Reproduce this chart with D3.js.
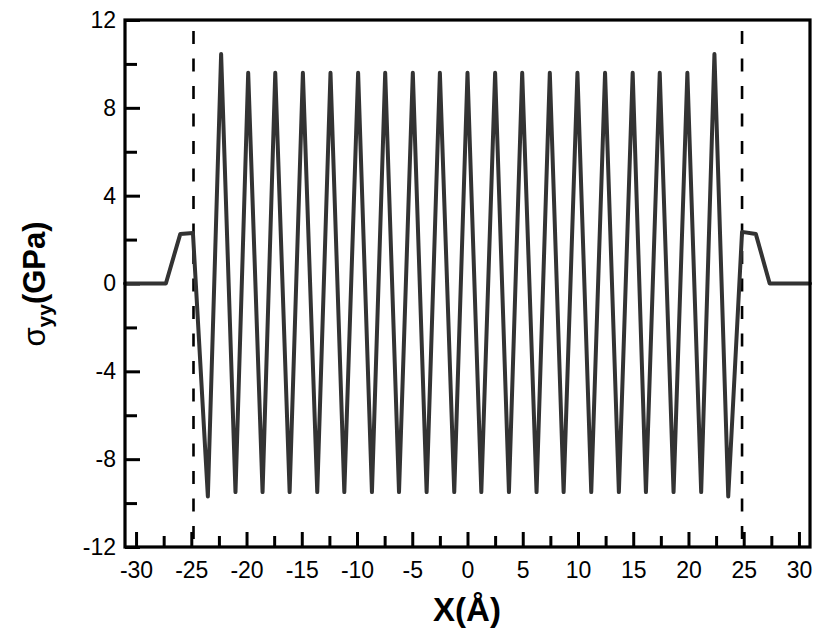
<!DOCTYPE html>
<html>
<head>
<meta charset="utf-8">
<script src="https://cdn.jsdelivr.net/npm/d3@7/dist/d3.min.js"></script>
<style>
  html, body { margin: 0; padding: 0; background: #fff; }
  svg { display: block; }
</style>
</head>
<body>
<svg id="chart" width="816" height="629"></svg>
<script>
// ---- data ----
const xValues = [-31, -27.3, -26.0, -24.85,
  -23.5, -22.3, -21.0, -19.85, -18.55, -17.4, -16.1, -14.9, -13.6, -12.4,
  -11.15, -9.9, -8.65, -7.45, -6.2, -4.95, -3.7, -2.5, -1.2, 0.0,
  1.25, 2.5, 3.75, 4.95, 6.25, 7.45, 8.7, 9.95, 11.2, 12.45,
  13.7, 14.95, 16.15, 17.4, 18.65, 19.9, 21.15, 22.35, 23.6,
  24.85, 26.1, 27.35, 31];
const yValues = [0, 0, 2.25, 2.3,
  -9.7, 10.45, -9.5, 9.6, -9.5, 9.6, -9.5, 9.6, -9.5, 9.6,
  -9.5, 9.6, -9.5, 9.6, -9.5, 9.6, -9.5, 9.6, -9.5, 9.6,
  -9.5, 9.6, -9.5, 9.6, -9.5, 9.6, -9.5, 9.6, -9.5, 9.6,
  -9.5, 9.6, -9.5, 9.6, -9.5, 9.6, -9.5, 10.45, -9.7,
  2.35, 2.25, 0, 0];
const dashedX = [-24.8, 24.85];
const xMajorTicks = [-30, -25, -20, -15, -10, -5, 0, 5, 10, 15, 20, 25, 30];
const xMinorTicks = [-27.5, -22.5, -17.5, -12.5, -7.5, -2.5, 2.5, 7.5, 12.5, 17.5, 22.5, 27.5];
const yMajorTicks = [-12, -8, -4, 0, 4, 8, 12];
const yMinorTicks = [-10, -6, -2, 2, 6, 10];

// ---- layout ----
const L = 125, R = 810, T = 20, B = 547;
const svg = d3.select("#chart");
const x = d3.scaleLinear().domain([-31, 31]).range([L, R]);
const y = d3.scaleLinear().domain([-12, 12]).range([B, T]);
const font = "Arial, 'Liberation Sans', Helvetica, sans-serif";

// minor ticks
svg.append("g").attr("transform", `translate(0,${B})`)
  .call(d3.axisBottom(x).tickValues(xMinorTicks).tickSize(-11).tickFormat(""))
  .call(g => g.select(".domain").remove())
  .call(g => g.selectAll("line").attr("stroke", "#000").attr("stroke-width", 3));
svg.append("g").attr("transform", `translate(${L},0)`)
  .call(d3.axisLeft(y).tickValues(yMinorTicks).tickSize(-12).tickFormat(""))
  .call(g => g.select(".domain").remove())
  .call(g => g.selectAll("line").attr("stroke", "#000").attr("stroke-width", 3));

// major ticks + labels
svg.append("g").attr("transform", `translate(0,${B})`)
  .call(d3.axisBottom(x).tickValues(xMajorTicks).tickSize(-15).tickPadding(15).tickFormat(d => String(d)))
  .call(g => g.select(".domain").remove())
  .call(g => g.selectAll("line").attr("stroke", "#000").attr("stroke-width", 3))
  .call(g => g.selectAll("text").attr("font-family", font).attr("font-size", 23).attr("fill", "#000"));
svg.append("g").attr("transform", `translate(${L},0)`)
  .call(d3.axisLeft(y).tickValues(yMajorTicks).tickSize(-15).tickPadding(9).tickFormat(d => String(d)))
  .call(g => g.select(".domain").remove())
  .call(g => g.selectAll("line").attr("stroke", "#000").attr("stroke-width", 3))
  .call(g => g.selectAll("text").attr("font-family", font).attr("font-size", 23).attr("fill", "#000"));

// dashed verticals
svg.append("g").selectAll("line").data(dashedX).join("line")
  .attr("x1", d => x(d)).attr("x2", d => x(d))
  .attr("y1", 31).attr("y2", B)
  .attr("stroke", "#000").attr("stroke-width", 2.6)
  .attr("stroke-dasharray", "13,14.5");

// data line
const pts = xValues.map((v, i) => [v, yValues[i]]);
svg.append("path").datum(pts)
  .attr("fill", "none").attr("stroke", "#333").attr("stroke-width", 4)
  .attr("stroke-linejoin", "round").attr("stroke-linecap", "round")
  .attr("d", d3.line().x(d => x(d[0])).y(d => y(d[1])));

// frame
svg.append("rect").attr("x", L).attr("y", T).attr("width", R - L).attr("height", B - T)
  .attr("fill", "none").attr("stroke", "#000").attr("stroke-width", 3.2);

// axis titles
svg.append("text").attr("x", 467).attr("y", 621).attr("text-anchor", "middle")
  .attr("font-family", font).attr("font-weight", "bold").attr("font-size", 33)
  .text("X(Å)");

const yt = svg.append("text").attr("transform", "translate(45,284) rotate(-90)")
  .attr("text-anchor", "middle").attr("font-family", font).attr("font-size", 31);
yt.append("tspan").attr("font-weight", "normal").text("σ");
yt.append("tspan").attr("font-weight", "bold").attr("font-size", 21).attr("dy", 7).text("yy");
yt.append("tspan").attr("font-weight", "bold").attr("dy", -7).text("(GPa)");
</script>
</body>
</html>
